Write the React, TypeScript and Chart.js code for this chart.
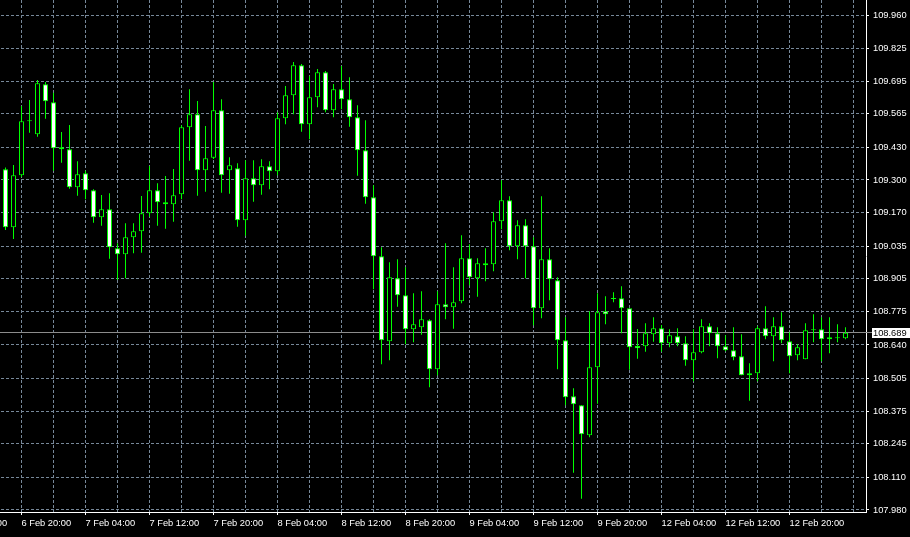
import React, { useEffect, useRef } from "react";
import { Chart, registerables } from "chart.js";

Chart.register(...registerables);

// USDJPY H1 candles, 6 Feb 18:00 .. 12 Feb 23:00
const opens = [
  109.343, 109.111, 109.319, 109.535, 109.483, 109.683, 109.611, 109.431, 109.423, 109.271,
  109.327, 109.259, 109.151, 109.183, 109.027, 109.003, 109.071, 109.095, 109.167, 109.259,
  109.211, 109.203, 109.243, 109.511, 109.563, 109.339, 109.389, 109.579, 109.339, 109.347,
  109.139, 109.307, 109.279, 109.355, 109.335, 109.547, 109.639, 109.759, 109.523, 109.631,
  109.731, 109.579, 109.663, 109.623, 109.551, 109.419, 109.231, 108.995, 108.655, 108.907,
  108.839, 108.703, 108.711, 108.739, 108.543, 108.803, 108.791, 108.815, 108.987, 108.907,
  108.967, 108.963, 109.135, 109.219, 109.035, 109.119, 109.035, 108.787, 108.983, 108.899,
  108.659, 108.435, 108.399, 108.279, 108.551, 108.775, 108.824, 108.827, 108.787, 108.636,
  108.635, 108.683, 108.707, 108.647, 108.675, 108.647, 108.579, 108.611, 108.715, 108.687,
  108.635, 108.619, 108.595, 108.519, 108.527, 108.707, 108.675, 108.715, 108.655, 108.599,
  108.583, 108.699, 108.703, 108.671, 108.667, 108.667,
];
const highs = [
  109.350, 109.360, 109.596, 109.620, 109.700, 109.692, 109.649, 109.492, 109.520, 109.375,
  109.337, 109.263, 109.240, 109.247, 109.047, 109.127, 109.127, 109.236, 109.356, 109.287,
  109.316, 109.344, 109.519, 109.663, 109.616, 109.516, 109.692, 109.623, 109.391, 109.367,
  109.379, 109.379, 109.383, 109.375, 109.571, 109.676, 109.772, 109.764, 109.715, 109.744,
  109.736, 109.684, 109.756, 109.711, 109.599, 109.539, 109.279, 109.031, 108.971, 108.983,
  108.951, 108.847, 108.855, 108.743, 108.855, 109.047, 108.951, 109.079, 109.043, 108.987,
  109.027, 109.171, 109.299, 109.235, 109.139, 109.143, 109.071, 109.235, 109.027, 108.911,
  108.751, 108.467, 108.399, 108.775, 108.847, 108.835, 108.851, 108.875, 108.787, 108.704,
  108.727, 108.751, 108.720, 108.703, 108.707, 108.675, 108.703, 108.743, 108.727, 108.711,
  108.679, 108.711, 108.683, 108.567, 108.715, 108.795, 108.751, 108.771, 108.691, 108.643,
  108.727, 108.763, 108.751, 108.751, 108.723, 108.711,
];
const lows = [
  109.100, 109.064, 109.312, 109.489, 109.473, 109.545, 109.337, 109.369, 109.265, 109.237,
  109.223, 109.129, 109.117, 108.985, 108.900, 108.907, 109.007, 109.009, 109.153, 109.117,
  109.105, 109.133, 109.223, 109.377, 109.237, 109.253, 109.384, 109.249, 109.245, 109.113,
  109.077, 109.213, 109.241, 109.263, 109.319, 109.523, 109.563, 109.493, 109.463, 109.591,
  109.571, 109.551, 109.583, 109.513, 109.317, 109.205, 108.863, 108.563, 108.579, 108.793,
  108.643, 108.651, 108.681, 108.471, 108.519, 108.743, 108.705, 108.807, 108.879, 108.833,
  108.895, 108.935, 109.103, 109.019, 108.983, 108.907, 108.719, 108.747, 108.819, 108.543,
  108.399, 108.129, 108.025, 108.271, 108.405, 108.723, 108.811, 108.687, 108.541, 108.585,
  108.613, 108.653, 108.613, 108.631, 108.635, 108.557, 108.495, 108.607, 108.635, 108.587,
  108.615, 108.579, 108.519, 108.417, 108.495, 108.663, 108.575, 108.647, 108.527, 108.579,
  108.583, 108.651, 108.575, 108.607, 108.651, 108.663,
];
const closes = [
  109.111, 109.319, 109.535, 109.535, 109.687, 109.615, 109.427, 109.423, 109.271, 109.323,
  109.259, 109.151, 109.183, 109.031, 109.003, 109.071, 109.095, 109.167, 109.259, 109.211,
  109.203, 109.239, 109.511, 109.563, 109.339, 109.387, 109.579, 109.319, 109.359, 109.139,
  109.307, 109.279, 109.355, 109.335, 109.547, 109.639, 109.759, 109.523, 109.631, 109.731,
  109.579, 109.663, 109.623, 109.551, 109.419, 109.231, 108.995, 108.659, 108.911, 108.839,
  108.703, 108.723, 108.743, 108.543, 108.803, 108.791, 108.811, 108.987, 108.911, 108.967,
  108.959, 109.135, 109.219, 109.035, 109.119, 109.035, 108.787, 108.983, 108.903, 108.659,
  108.431, 108.403, 108.283, 108.551, 108.771, 108.763, 108.824, 108.787, 108.631, 108.627,
  108.687, 108.707, 108.647, 108.679, 108.647, 108.579, 108.611, 108.715, 108.687, 108.635,
  108.619, 108.591, 108.519, 108.527, 108.707, 108.675, 108.715, 108.659, 108.595, 108.631,
  108.699, 108.703, 108.663, 108.663, 108.671, 108.689,
];

const yTickValues = [
  109.96, 109.825, 109.695, 109.565, 109.43, 109.3, 109.17, 109.035,
  108.905, 108.775, 108.64, 108.505, 108.375, 108.245, 108.11, 107.98,
];
const xTickLabels = [
  "6 Feb 12:00", "6 Feb 20:00", "7 Feb 04:00", "7 Feb 12:00", "7 Feb 20:00",
  "8 Feb 04:00", "8 Feb 12:00", "8 Feb 20:00", "9 Feb 04:00", "9 Feb 12:00",
  "9 Feb 20:00", "12 Feb 04:00", "12 Feb 12:00", "12 Feb 20:00",
];
const firstLabelBar = -6; // bar index of the first (cut-off) time label
const barsPerLabel = 8;
const barsPerGrid = 4;

const yMax = 110.02;
const yMin = 107.972;
const xMin = -8.6875;
const xMax = 107.5625;

const LIME = "#00ff00";
const GRID = "#778899";

export default function App() {
  const ref = useRef<HTMLCanvasElement | null>(null);

  useEffect(() => {
    const canvas = ref.current;
    if (!canvas) return;
    Chart.defaults.font.family = "'Liberation Sans', Arial, sans-serif";
    Chart.defaults.font.size = 9.3;
    Chart.defaults.color = "#ffffff";

    const labelFor = (v: number) => {
      const k = (v - firstLabelBar) / barsPerLabel;
      return Number.isInteger(k) && xTickLabels[k] ? xTickLabels[k] : "";
    };

    const bgPlugin = {
      id: "bg",
      beforeDraw(chart: any) {
        const c = chart.ctx;
        c.save();
        c.fillStyle = "#000000";
        c.fillRect(0, 0, chart.width, chart.height);
        c.restore();
      },
    };

    const lastPrice = closes[closes.length - 1];
    const pricePlugin = {
      id: "priceLine",
      beforeDatasetsDraw(chart: any) {
        const c = chart.ctx;
        const y = Math.round(chart.scales.y.getPixelForValue(lastPrice) - 0.5) + 0.5;
        c.save();
        c.strokeStyle = "#8c8c8c";
        c.lineWidth = 1;
        c.beginPath();
        c.moveTo(chart.chartArea.left, y);
        c.lineTo(chart.chartArea.right + 6, y);
        c.stroke();
        c.restore();
      },
      afterDraw(chart: any) {
        const c = chart.ctx;
        const y = Math.round(chart.scales.y.getPixelForValue(lastPrice));
        const x = chart.chartArea.right + 6;
        c.save();
        c.fillStyle = "#ffffff";
        c.fillRect(x, y - 5, 38, 10);
        c.fillStyle = "#000000";
        c.font = "9.3px 'Liberation Sans', Arial, sans-serif";
        c.textBaseline = "middle";
        c.textAlign = "left";
        c.fillText(lastPrice.toFixed(3), x + 1, y + 0.5);
        c.restore();
      },
    };

    const zeroPad = (scale: any) => {
      scale.paddingTop = 0;
      scale.paddingBottom = 0;
      scale.paddingLeft = 0;
      scale.paddingRight = 0;
    };

    const chart = new Chart(canvas, {
      type: "bar",
      data: {
        datasets: [
          {
            label: "body",
            data: opens.map((o, i) => ({ x: i, y: [o, closes[i]] })) as any,
            backgroundColor: (ctx: any) => {
              const i = ctx.dataIndex;
              if (i === undefined) return "#000";
              const o = opens[i];
              const c = closes[i];
              if (o === c) return LIME;
              return c > o ? "#000000" : "#ffffff";
            },
            borderColor: LIME,
            borderWidth: 1,
            borderSkipped: false,
            barThickness: 5,
            grouped: false,
            minBarLength: 1,
            inflateAmount: 0,
            order: 0,
          } as any,
          {
            label: "wick",
            data: lows.map((l, i) => ({ x: i, y: [l, highs[i]] })) as any,
            backgroundColor: LIME,
            borderWidth: 0,
            barThickness: 1,
            grouped: false,
            inflateAmount: 0,
            order: 1,
          } as any,
        ],
      },
      options: {
        animation: false,
        responsive: false,
        devicePixelRatio: 1,
        layout: { padding: 0 },
        plugins: { legend: { display: false }, tooltip: { enabled: false } },
        scales: {
          x: {
            type: "linear",
            min: xMin,
            max: xMax,
            offset: false,
            grid: {
              offset: false,
              color: GRID,
              lineWidth: 1,
              drawTicks: true,
              tickLength: 3,
              tickColor: (ctx: any) =>
                ctx.tick && labelFor(ctx.tick.value) ? "#ffffff" : "rgba(0,0,0,0)",
            },
            border: { display: true, color: "#ffffff", width: 1, dash: [3, 2] },
            ticks: {
              autoSkip: false,
              maxRotation: 0,
              minRotation: 0,
              align: "start",
              padding: 3,
              color: "#ffffff",
              callback: (v: any) => labelFor(Number(v)),
            },
            afterBuildTicks: (scale: any) => {
              const t = [];
              for (let v = firstLabelBar; v <= xMax; v += barsPerGrid) t.push({ value: v });
              scale.ticks = t;
            },
            afterFit: (scale: any) => {
              scale.height = 25;
              zeroPad(scale);
            },
          } as any,
          y: {
            type: "linear",
            position: "right",
            min: yMin,
            max: yMax,
            grid: {
              color: GRID,
              lineWidth: 1,
              drawTicks: true,
              tickLength: 3,
              tickColor: "#ffffff",
            },
            border: { display: true, color: "#ffffff", width: 1, dash: [3, 2] },
            ticks: {
              padding: 4,
              color: "#ffffff",
              callback: (v: any) => Number(v).toFixed(3),
            },
            afterBuildTicks: (scale: any) => {
              scale.ticks = yTickValues.map((v) => ({ value: v }));
            },
            afterFit: (scale: any) => {
              scale.width = 44;
              zeroPad(scale);
            },
          } as any,
        },
      },
      plugins: [bgPlugin, pricePlugin],
    });

    return () => chart.destroy();
  }, []);

  return (
    <div
      style={{
        position: "fixed",
        left: -64,
        top: 0,
        width: 974,
        height: 537,
        background: "#000",
      }}
    >
      <canvas
        ref={ref}
        width={974}
        height={537}
        style={{ display: "block", width: 974, height: 537 }}
      />
    </div>
  );
}
